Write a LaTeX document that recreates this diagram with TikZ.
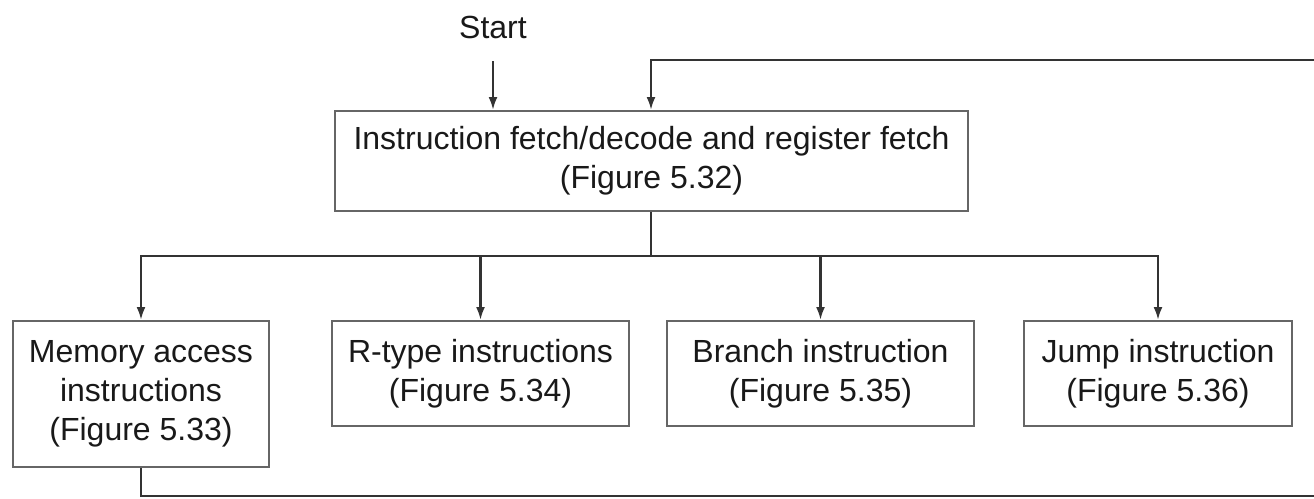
\documentclass[tikz,border=0pt]{standalone}
\usepackage{fontspec}
\setmainfont{Liberation Sans}
\usetikzlibrary{arrows.meta}
\begin{document}
\begin{tikzpicture}[x=1pt,y=-1pt,
  every node/.style={font=\fontsize{32}{39}\selectfont, text=black!90},
  stepbox/.style={draw=black!60, line width=2pt, align=center, inner sep=0pt},
  conn/.style={draw=black!80, line width=2.4pt},
  arrow/.style={conn, -{Latex[length=13pt,width=9pt]}}
]
\useasboundingbox (0,0) rectangle (1314,498);
\fill[white] (0,0) rectangle (1314,498);

\node (start) at (493,27) {Start};
\node[stepbox, minimum width=633pt, minimum height=100pt] (top) at (651.5,161)
  {Instruction fetch/decode and register fetch\\(Figure 5.32)};

\node[stepbox, minimum width=256pt, minimum height=146pt] (mem) at (141,394)
  {Memory access\\instructions\\(Figure 5.33)};
\node[stepbox, minimum width=297pt, minimum height=105pt] (rtype) at (480.5,373.5)
  {R-type instructions\\(Figure 5.34)};
\node[stepbox, minimum width=307pt, minimum height=105pt] (branch) at (820.5,373.5)
  {Branch instruction\\(Figure 5.35)};
\node[stepbox, minimum width=268pt, minimum height=105pt] (jump) at (1158,373.5)
  {Jump instruction\\(Figure 5.36)};

\coordinate (s0) at (493,61);
\coordinate (split) at (651,256);
\coordinate (fbin) at (1314,60);
\coordinate (fbout) at (1314,496);

\draw[arrow] (s0) -- (s0 |- top.north);
\draw[arrow] (fbin) -| (top.north -| split);
\draw[conn] (top.south -| split) -- (split);
\draw[arrow] (split) -| (mem.north);
\draw[arrow] (split) -| (rtype.north);
\draw[arrow] (split) -| (branch.north);
\draw[arrow] (split) -| (jump.north);
\draw[conn] (mem.south) |- (fbout);
\end{tikzpicture}
\end{document}
